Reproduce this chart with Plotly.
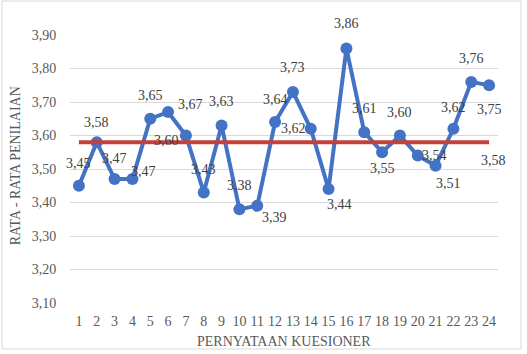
import plotly.graph_objects as go

categories = list(range(1, 25))
values = [3.45, 3.58, 3.47, 3.47, 3.65, 3.67, 3.60, 3.43, 3.63, 3.38, 3.39, 3.64,
          3.73, 3.62, 3.44, 3.86, 3.61, 3.55, 3.60, 3.54, 3.51, 3.62, 3.76, 3.75]
average = 3.58
y_ticks = [3.10, 3.20, 3.30, 3.40, 3.50, 3.60, 3.70, 3.80, 3.90]

# label offsets (pixels): (dx, dy up)
label_offsets = [(0, 22), (0, 20), (0, 21), (11, 8), (0, 23), (22, 8), (-19, -5), (0, 23),
                 (0, 24), (0, 24), (17, -12), (0, 23), (0, 24), (-17, 0), (11, -15), (0, 25),
                 (0, 24), (0, -16), (0, 23), (17, 0), (13, -18), (0, 21), (0, 23), (0, -24)]

FONT = "Liberation Serif, serif"
TXT = "#595959"

def fmt(v):
    return f"{v:.2f}".replace(".", ",")

fig = go.Figure()
fig.add_trace(go.Scatter(
    x=categories, y=values, mode="lines+markers",
    line=dict(color="#4472C4", width=4),
    marker=dict(color="#4472C4", size=12),
    hoverinfo="skip", showlegend=False))
fig.add_trace(go.Scatter(
    x=[categories[0], categories[-1]], y=[average, average], mode="lines",
    line=dict(color="#C4403A", width=4),
    hoverinfo="skip", showlegend=False))

annotations = []
for c, v, (dx, dy) in zip(categories, values, label_offsets):
    annotations.append(dict(x=c, y=v, text=fmt(v), showarrow=False,
                            xshift=dx, yshift=dy, xanchor="center", yanchor="middle",
                            font=dict(family=FONT, size=14, color="#404040")))
annotations.append(dict(x=categories[-1], y=average, text=fmt(average), showarrow=False,
                        xshift=4, yshift=-18, xanchor="center", yanchor="middle",
                        font=dict(family=FONT, size=14, color="#404040")))
annotations.append(dict(xref="paper", yref="paper", x=(15 - 70) / 428, y=0.51,
                        xanchor="center", yanchor="middle",
                        text="RATA - RATA PENILAIAN", textangle=-90, showarrow=False,
                        font=dict(family=FONT, size=14, color=TXT)))
annotations.append(dict(xref="paper", yref="paper", x=(284 - 70) / 428, y=-(341 - 303) / 268,
                        xanchor="center", yanchor="middle",
                        text="PERNYATAAN KUESIONER", showarrow=False,
                        font=dict(family=FONT, size=14, color=TXT)))

fig.update_layout(
    width=527, height=354,
    margin=dict(l=70, r=29, t=35, b=51),
    paper_bgcolor="white", plot_bgcolor="white",
    annotations=annotations,
    shapes=[dict(type="rect", xref="paper", yref="paper",
                 x0=(2 - 70) / 428, x1=(521 - 70) / 428,
                 y0=(303 - 349) / 268, y1=(303 - 1) / 268,
                 line=dict(color="#D9D9D9", width=1))],
    xaxis=dict(range=[0.5, 24.5], tickmode="array", tickvals=categories,
               ticktext=[str(c) for c in categories], showgrid=False, zeroline=False,
               showline=False, ticks="outside", ticklen=5, tickcolor="rgba(0,0,0,0)",
               tickfont=dict(family=FONT, size=14, color=TXT), fixedrange=True),
    yaxis=dict(range=[3.10, 3.90], tickmode="array", tickvals=y_ticks,
               ticktext=[fmt(t) for t in y_ticks], showgrid=True, gridcolor="#D9D9D9",
               gridwidth=1, zeroline=False, showline=False, ticks="outside", ticklen=10,
               tickcolor="rgba(0,0,0,0)",
               tickfont=dict(family=FONT, size=14, color=TXT), fixedrange=True),
)

fig.write_html("out.html")
